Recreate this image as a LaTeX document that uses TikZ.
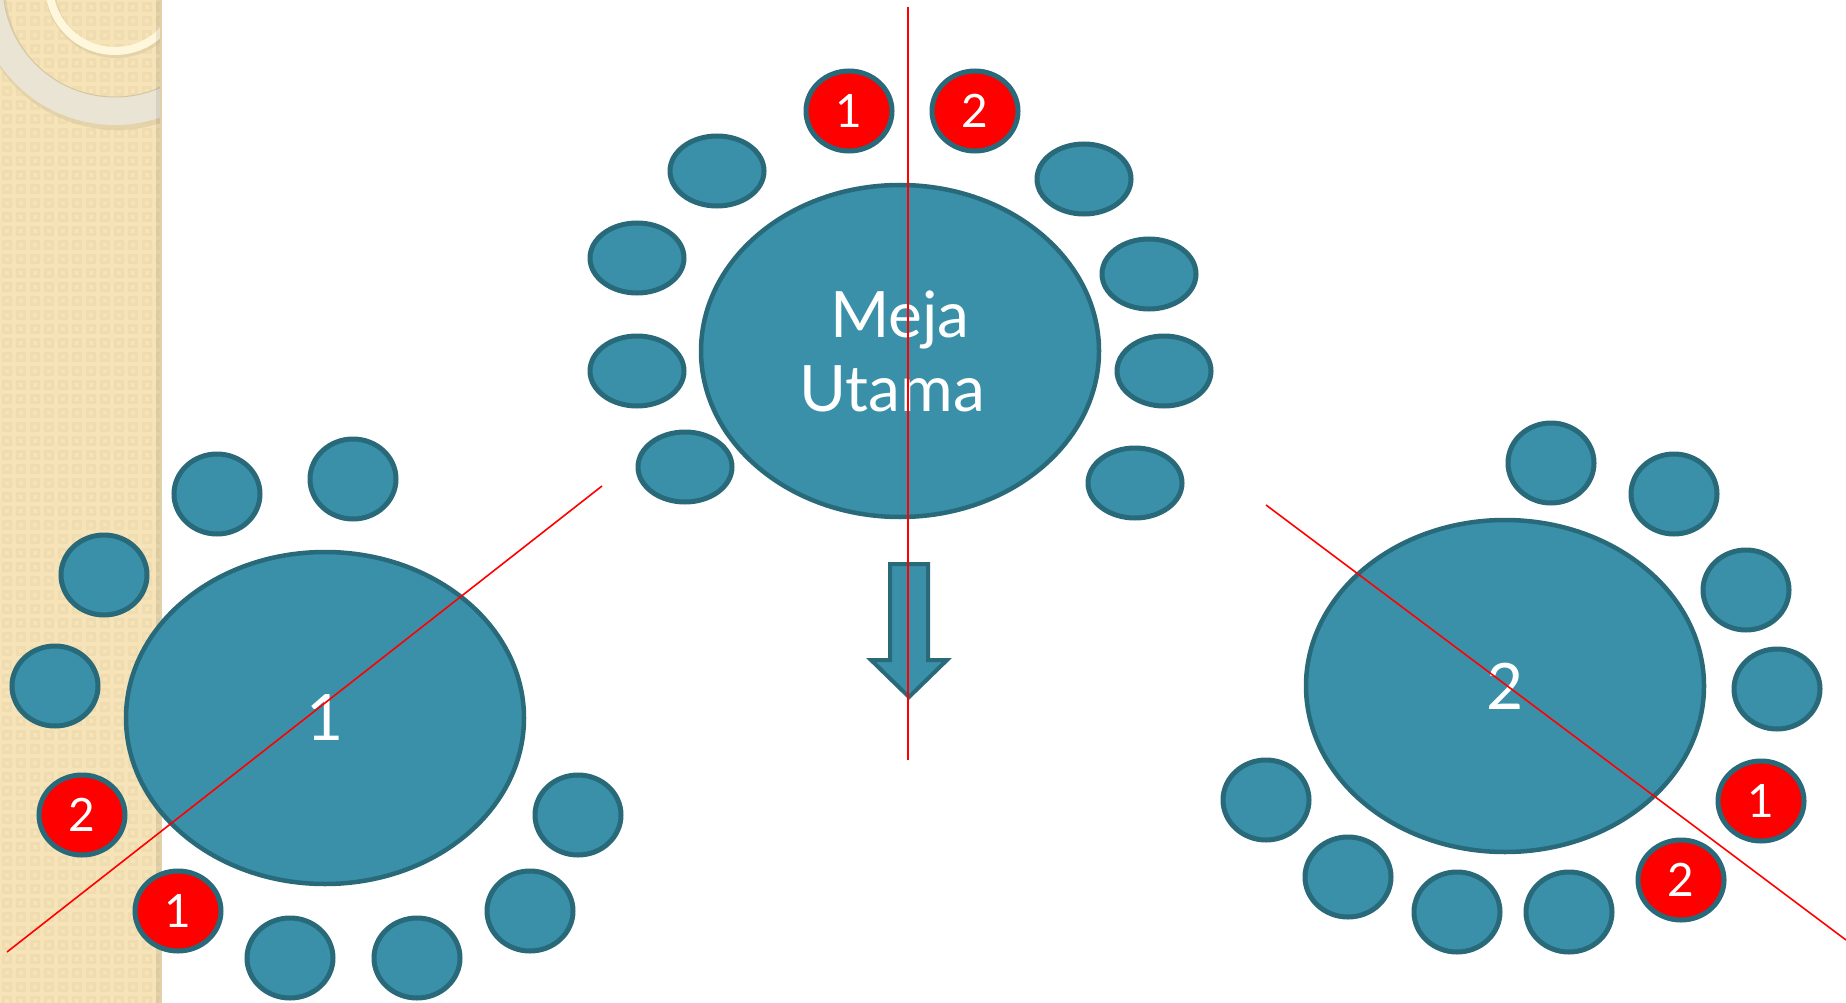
\documentclass[tikz,border=0pt]{standalone}
\usepackage{fontspec}
\setmainfont{Lato}
\usetikzlibrary{shapes.geometric}
\definecolor{tealfill}{RGB}{58,144,168}
\definecolor{tealedge}{RGB}{40,105,122}
\definecolor{beige}{RGB}{246,228,184}
\definecolor{beigedark}{RGB}{239,220,176}
\definecolor{ringcol}{RGB}{234,228,212}
\definecolor{ringshadow}{RGB}{214,198,160}
\definecolor{creamring}{RGB}{255,247,220}
\tikzset{
  seat/.style={ellipse, draw=tealedge, fill=tealfill, line width=5pt, inner sep=0pt, minimum width=86pt, minimum height=80pt},
  mseat/.style={seat, minimum width=94pt, minimum height=70pt},
  redseat/.style={seat, fill=red, text=white, font=\fontsize{46}{50}\selectfont},
  table/.style={ellipse, draw=tealedge, fill=tealfill, line width=4.5pt, inner sep=0pt, minimum width=398pt, minimum height=332pt, text=white, font=\fontsize{64}{74}\selectfont, align=center},
  redline/.style={draw=red, line width=1.6pt},
  arrowshape/.style={draw=tealedge, fill=tealfill, line width=4pt, line join=miter}
}
\begin{document}
\begin{tikzpicture}[x=1pt,y=-1pt]
\useasboundingbox (0,0) rectangle (1846,1003);
% side panel
\fill[beige] (0,0) rectangle (162,1003);
\begin{scope}
\clip (0,0) rectangle (160,1003);
\foreach \i in {0,...,11} {
  \foreach \j in {0,...,72} {
    \fill[beigedark] (\i*14+2,\j*14+2) rectangle ++(10,10);
    \fill[beige] (\i*14+5,\j*14+5) rectangle ++(4,4);
  }
}
\draw[ringshadow, line width=30pt, opacity=0.5] (117,-11) circle (126);
\draw[ringcol, line width=28pt] (115,-15) circle (126);
\draw[ringshadow, line width=1pt] (115,-15) circle (112);
\draw[ringshadow, line width=10pt, opacity=0.5] (116,-13) circle (66);
\draw[creamring, line width=8pt] (115,-15) circle (66);
\end{scope}
\fill[black, opacity=0.08] (156,0) rectangle (162,1003);
% main table
\node[table] (main) at (900,351) {Meja\\\hspace*{-16pt}Utama};
\node[mseat] (m1) at (717,171) {};
\node[mseat] (m2) at (637,258) {};
\node[mseat] (m3) at (637,371) {};
\node[mseat] (m4) at (685,467) {};
\node[mseat] (m5) at (1084,179) {};
\node[mseat] (m6) at (1149,274) {};
\node[mseat] (m7) at (1164,371) {};
\node[mseat] (m8) at (1135,483) {};
\node[redseat] (mr1) at (849,111) {1};
\node[redseat] (mr2) at (975,111) {2};
% left table
\node[table] (t1) at (325,718) {1};
\node[seat] (l1) at (217,494) {};
\node[seat] (l2) at (353,479) {};
\node[seat] (l3) at (104,575) {};
\node[seat] (l4) at (55,686) {};
\node[redseat] (lr2) at (82,815) {2};
\node[redseat] (lr1) at (178,911) {1};
\node[seat] (l5) at (290,958) {};
\node[seat] (l6) at (417,958) {};
\node[seat] (l7) at (530,911) {};
\node[seat] (l8) at (578,815) {};
% right table
\node[table] (t2) at (1505,686) {2};
\node[seat] (r1) at (1551,463) {};
\node[seat] (r2) at (1674,494) {};
\node[seat] (r3) at (1746,590) {};
\node[seat] (r4) at (1777,689) {};
\node[redseat] (rr1) at (1761,801) {1};
\node[redseat] (rr2) at (1681,880) {2};
\node[seat] (r5) at (1569,912) {};
\node[seat] (r6) at (1457,912) {};
\node[seat] (r7) at (1348,877) {};
\node[seat] (r8) at (1266,800) {};
% arrow
\draw[arrowshape] (890,564) -- (928,564) -- (928,660) -- (947,660) -- (909,697) -- (871,660) -- (890,660) -- cycle;
% red lines
\coordinate (v1) at (908,7);
\coordinate (v2) at (908,760);
\coordinate (a1) at (602,486);
\coordinate (a2) at (7,952);
\coordinate (b1) at (1266,505);
\coordinate (b2) at (1846,940);
\draw[redline] (v1) -- (v2);
\draw[redline] (a1) -- (a2);
\draw[redline] (b1) -- (b2);
\end{tikzpicture}
\end{document}
